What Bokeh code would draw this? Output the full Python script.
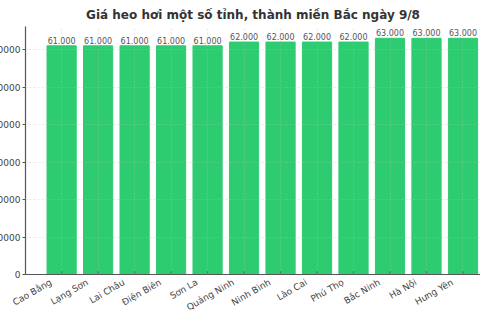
import math
from bokeh.plotting import figure
from bokeh.models import (ColumnDataSource, FixedTicker, NumeralTickFormatter, Range1d,
                          CustomJSTickFormatter)
from bokeh.core.properties import value
from bokeh.embed import file_html
from bokeh.resources import INLINE

provinces = ["Cao Bằng", "Lạng Sơn", "Lai Châu", "Điện Biên", "Sơn La", "Quảng Ninh",
             "Ninh Bình", "Lào Cai", "Phú Thọ", "Bắc Ninh", "Hà Nội", "Hưng Yên"]
prices = [61000, 61000, 61000, 61000, 61000, 62000, 62000, 62000, 62000, 63000, 63000, 63000]
y_ticks = [0, 10000, 20000, 30000, 40000, 50000, 60000]

idx = list(range(len(provinces)))
labels = [f"{v:,}".replace(",", ".") for v in prices]
src = ColumnDataSource(dict(x=idx, top=prices, label=labels, base=[0] * len(idx)))

SHIFT = 0.29  # moves rotated labels so they end at their tick, as right-aligned text does

FONT = "DejaVu Sans"
p = figure(width=492, height=320, output_backend="svg", toolbar_location=None,
           title="Giá heo hơi một số tỉnh, thành miền Bắc ngày 9/8",
           x_range=Range1d(-0.99, 11.48), y_range=Range1d(0, 66150),
           min_border_left=0, min_border_right=0, min_border_top=0, min_border_bottom=46)
p.margin = (0, 0, 0, -12)
p.outline_line_color = None
p.background_fill_color = "white"

p.title.text_font = FONT
p.title.text_font_size = "12px"
p.title.text_font_style = "bold"
p.title.text_color = "#333333"
p.title.align = "center"

p.vbar(x="x", top="top", width=0.8, source=src, color="#2ecc71")
p.text(x="x", y="top", text="label", source=src, text_font=value(FONT),
       text_font_size="8px", text_color="#555555", text_align="center",
       text_baseline="bottom", y_offset=-2)
# small inward tick marks at the bar centres
p.scatter(x="x", y="base", source=src, marker="dash", angle=math.pi / 2, size=6,
          line_color="#555555", line_width=1)

p.xaxis.ticker = FixedTicker(ticks=[i - SHIFT for i in idx])
p.xaxis.formatter = CustomJSTickFormatter(
    args=dict(names=provinces, shift=SHIFT),
    code="return names[Math.round(tick + shift)];")
p.xaxis.major_label_orientation = math.pi / 6
p.xaxis.major_label_standoff = 7
p.xaxis.major_tick_out = 0
p.xaxis.major_tick_in = 0
p.yaxis.ticker = FixedTicker(ticks=y_ticks)
p.yaxis.formatter = NumeralTickFormatter(format="0")
p.yaxis.major_label_standoff = 2
p.yaxis.major_tick_out = 3
p.yaxis.major_tick_in = 0

for ax in (p.xaxis[0], p.yaxis[0]):
    ax.major_label_text_font = FONT
    ax.major_label_text_font_size = "9px"
    ax.major_label_text_color = "#444444"
    ax.axis_line_color = "#555555"
    ax.axis_line_width = 1.2
    ax.major_tick_line_color = "#555555"
    ax.minor_tick_line_color = None

for g in (p.xgrid[0], p.ygrid[0]):
    g.grid_line_color = "#bbbbbb"
    g.grid_line_dash = "2 2"
    g.grid_line_alpha = 0.35
    g.level = "overlay"
p.xgrid.ticker = FixedTicker(ticks=idx)
p.ygrid.ticker = FixedTicker(ticks=y_ticks)

open("out.html", "w").write(file_html(p, INLINE))
